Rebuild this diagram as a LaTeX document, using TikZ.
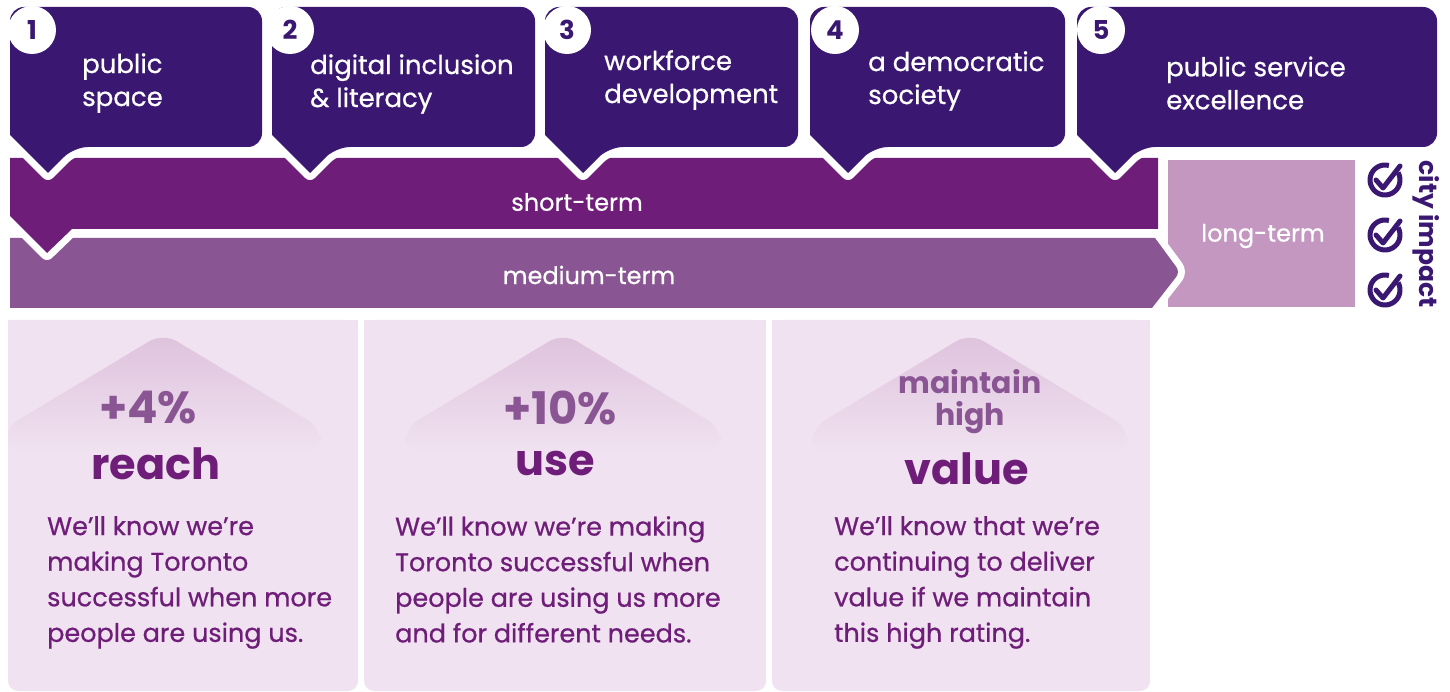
\documentclass[tikz,border=0pt]{standalone}
\usepackage{fontspec}
\setmainfont{Poppins}
\newfontfamily\pmed[FakeBold=0.7]{Poppins}
\definecolor{dk}{HTML}{3A1872}
\definecolor{st}{HTML}{6E1E78}
\definecolor{md}{HTML}{8A5593}
\definecolor{lg}{HTML}{C397C0}
\definecolor{cd}{HTML}{F0E2F0}
\definecolor{rf}{HTML}{DEC2DD}
\newcommand\mycallout[3]{%
  \pgfmathsetmacro\cL{#1}\pgfmathsetmacro\cR{#2}%
  \pgfmathsetmacro\cT{#1+38}\pgfmathsetmacro\cS{#1+64}%
  \path[#3] (\cL,70) [rounded corners=14] -- (\cL,7) -- (\cR,7) -- (\cR,147) -- (\cS,147) [sharp corners] -- (\cT,173) -- (\cL,135) -- cycle;}
\newcommand\myroof[1]{%
  \pgfmathsetmacro\rA{#1-158}\pgfmathsetmacro\rB{#1+158}%
  \shade[top color=rf, middle color=rf, bottom color=cd, rounded corners=16]
    (\rA,452) -- (\rA,428) -- (#1,333) -- (\rB,428) -- (\rB,452) -- cycle;}
\newcommand\mycheck[1]{%
  \draw[dk, line width=5, line cap=round, line join=round, preaction={draw=white, line width=12}]
    (1376,#1) -- ++(7,8) -- ++(17,-22);
  \draw[dk, line width=5] (1385,#1) ++(-30:15) arc[start angle=-30, end angle=285, radius=15];}
\tikzset{
  lbl/.style={text=white, font=\pmed\fontsize{26}{33}\selectfont, align=left, anchor=west, inner sep=0},
  num/.style={circle, fill=white, minimum size=48, inner sep=0, text=dk, font=\fontsize{26}{26}\selectfont\bfseries},
  band/.style={text=white, font=\pmed\fontsize{24}{24}\selectfont},
  big/.style={text=md, font=\fontsize{45}{32}\selectfont\bfseries, align=center},
  key/.style={text=st, font=\fontsize{43}{43}\selectfont\bfseries},
  body/.style={text=st, font=\pmed\fontsize{25.5}{35.6}\selectfont, align=left, anchor=north west, inner sep=0},
  card/.style={fill=cd, rounded corners=10},
}
\begin{document}
\begin{tikzpicture}[x=1pt,y=-1pt]
\useasboundingbox (0,0) rectangle (1450,692);
% cards
\path[card] (8,320) -- (8,691) -- (358,691) -- (358,320) [sharp corners] -- cycle;
\fill[cd] (8,320) rectangle (358,340);
\path[card] (364,320) -- (364,691) -- (766,691) -- (766,320) -- cycle;
\fill[cd] (364,320) rectangle (766,340);
\path[card] (772,320) -- (772,691) -- (1150,691) -- (1150,320) -- cycle;
\fill[cd] (772,320) rectangle (1150,340);
\begin{scope}
\clip (8,320) rectangle (358,691);
\myroof{163}
\end{scope}
\myroof{563}
\myroof{970}
% long-term
\fill[lg] (1168,160) rectangle (1355,307);
% medium band
\path[draw=white, line width=14, line join=round]
  (10,238) -- (1155,238) [rounded corners=6] -- (1180,272) [sharp corners] -- (1152,308) -- (10,308);
\fill[md] (10,238) -- (1155,238) [rounded corners=6] -- (1180,272) [sharp corners] -- (1152,308) -- (10,308) -- cycle;
\fill[white] (0,236) rectangle (9.5,310);
% short band
\path[draw=white, line width=14, line join=round]
  (10,158) -- (1158,158) -- (1158,229) -- (72,229) -- (47,253) -- (10,216) -- cycle;
\fill[st] (10,158) -- (1158,158) -- (1158,229) -- (72,229) -- (47,253) -- (10,216) -- cycle;
\fill[white] (0,150) rectangle (9.5,320);
% callouts
\foreach \a/\b in {10/262, 272/535, 545/798, 810/1065, 1077/1437}{
  \mycallout{\a}{\b}{draw=white, line width=14, line join=round}
  \mycallout{\a}{\b}{fill=dk}
}
\fill[white] (0,0) rectangle (9.5,150);
\fill[white] (0,0) rectangle (1450,6.5);
% numbers
\node[num] (n1) at (32,30) {1};
\node[num] (n2) at (290,30) {2};
\node[num] (n3) at (567,30) {3};
\node[num] (n4) at (835,30) {4};
\node[num] (n5) at (1101,30) {5};
\fill[white] (0,0) rectangle (1450,6.5);
\fill[white] (0,0) rectangle (9.5,60);
% callout labels
\node[lbl] (t1) at (82,83) {public\\space};
\node[lbl] (t2) at (310,84) {digital inclusion\\\& literacy};
\node[lbl] (t3) at (604,80) {workforce\\development};
\node[lbl] (t4) at (868,81) {a democratic\\society};
\node[lbl] (t5) at (1166,83) {public service\\excellence};
% band labels
\node[band] (s) at (577,202) {short-term};
\node[band] (m) at (589,275) {medium-term};
\node[band] (l) at (1263,236) {long-term};
% city impact
\mycheck{180}
\mycheck{235}
\mycheck{290}
\node[text=dk, rotate=-90, font=\fontsize{25}{25}\selectfont\bfseries] (ci) at (1426,234) {city impact};
% card texts
\node[big] (p1) at (148,408) {+4\%};
\node[key] (k1) at (156,464) {reach};
\node[body] (b1) at (47,516) {We’ll know we’re\\making Toronto\\successful when more\\people are using us.};
\node[big] (p2) at (560,408) {+10\%};
\node[key] (k2) at (555,464) {use};
\node[body] (b2) at (395,516) {We’ll know we’re making\\Toronto successful when\\people are using us more\\and for different needs.};
\node[big, font=\fontsize{30}{32}\selectfont\bfseries] (p3) at (970,402) {maintain\\high};
\node[key] (k3) at (967,469) {value};
\node[body] (b3) at (834,516) {We’ll know that we’re\\continuing to deliver\\value if we maintain\\this high rating.};
\end{tikzpicture}
\end{document}
